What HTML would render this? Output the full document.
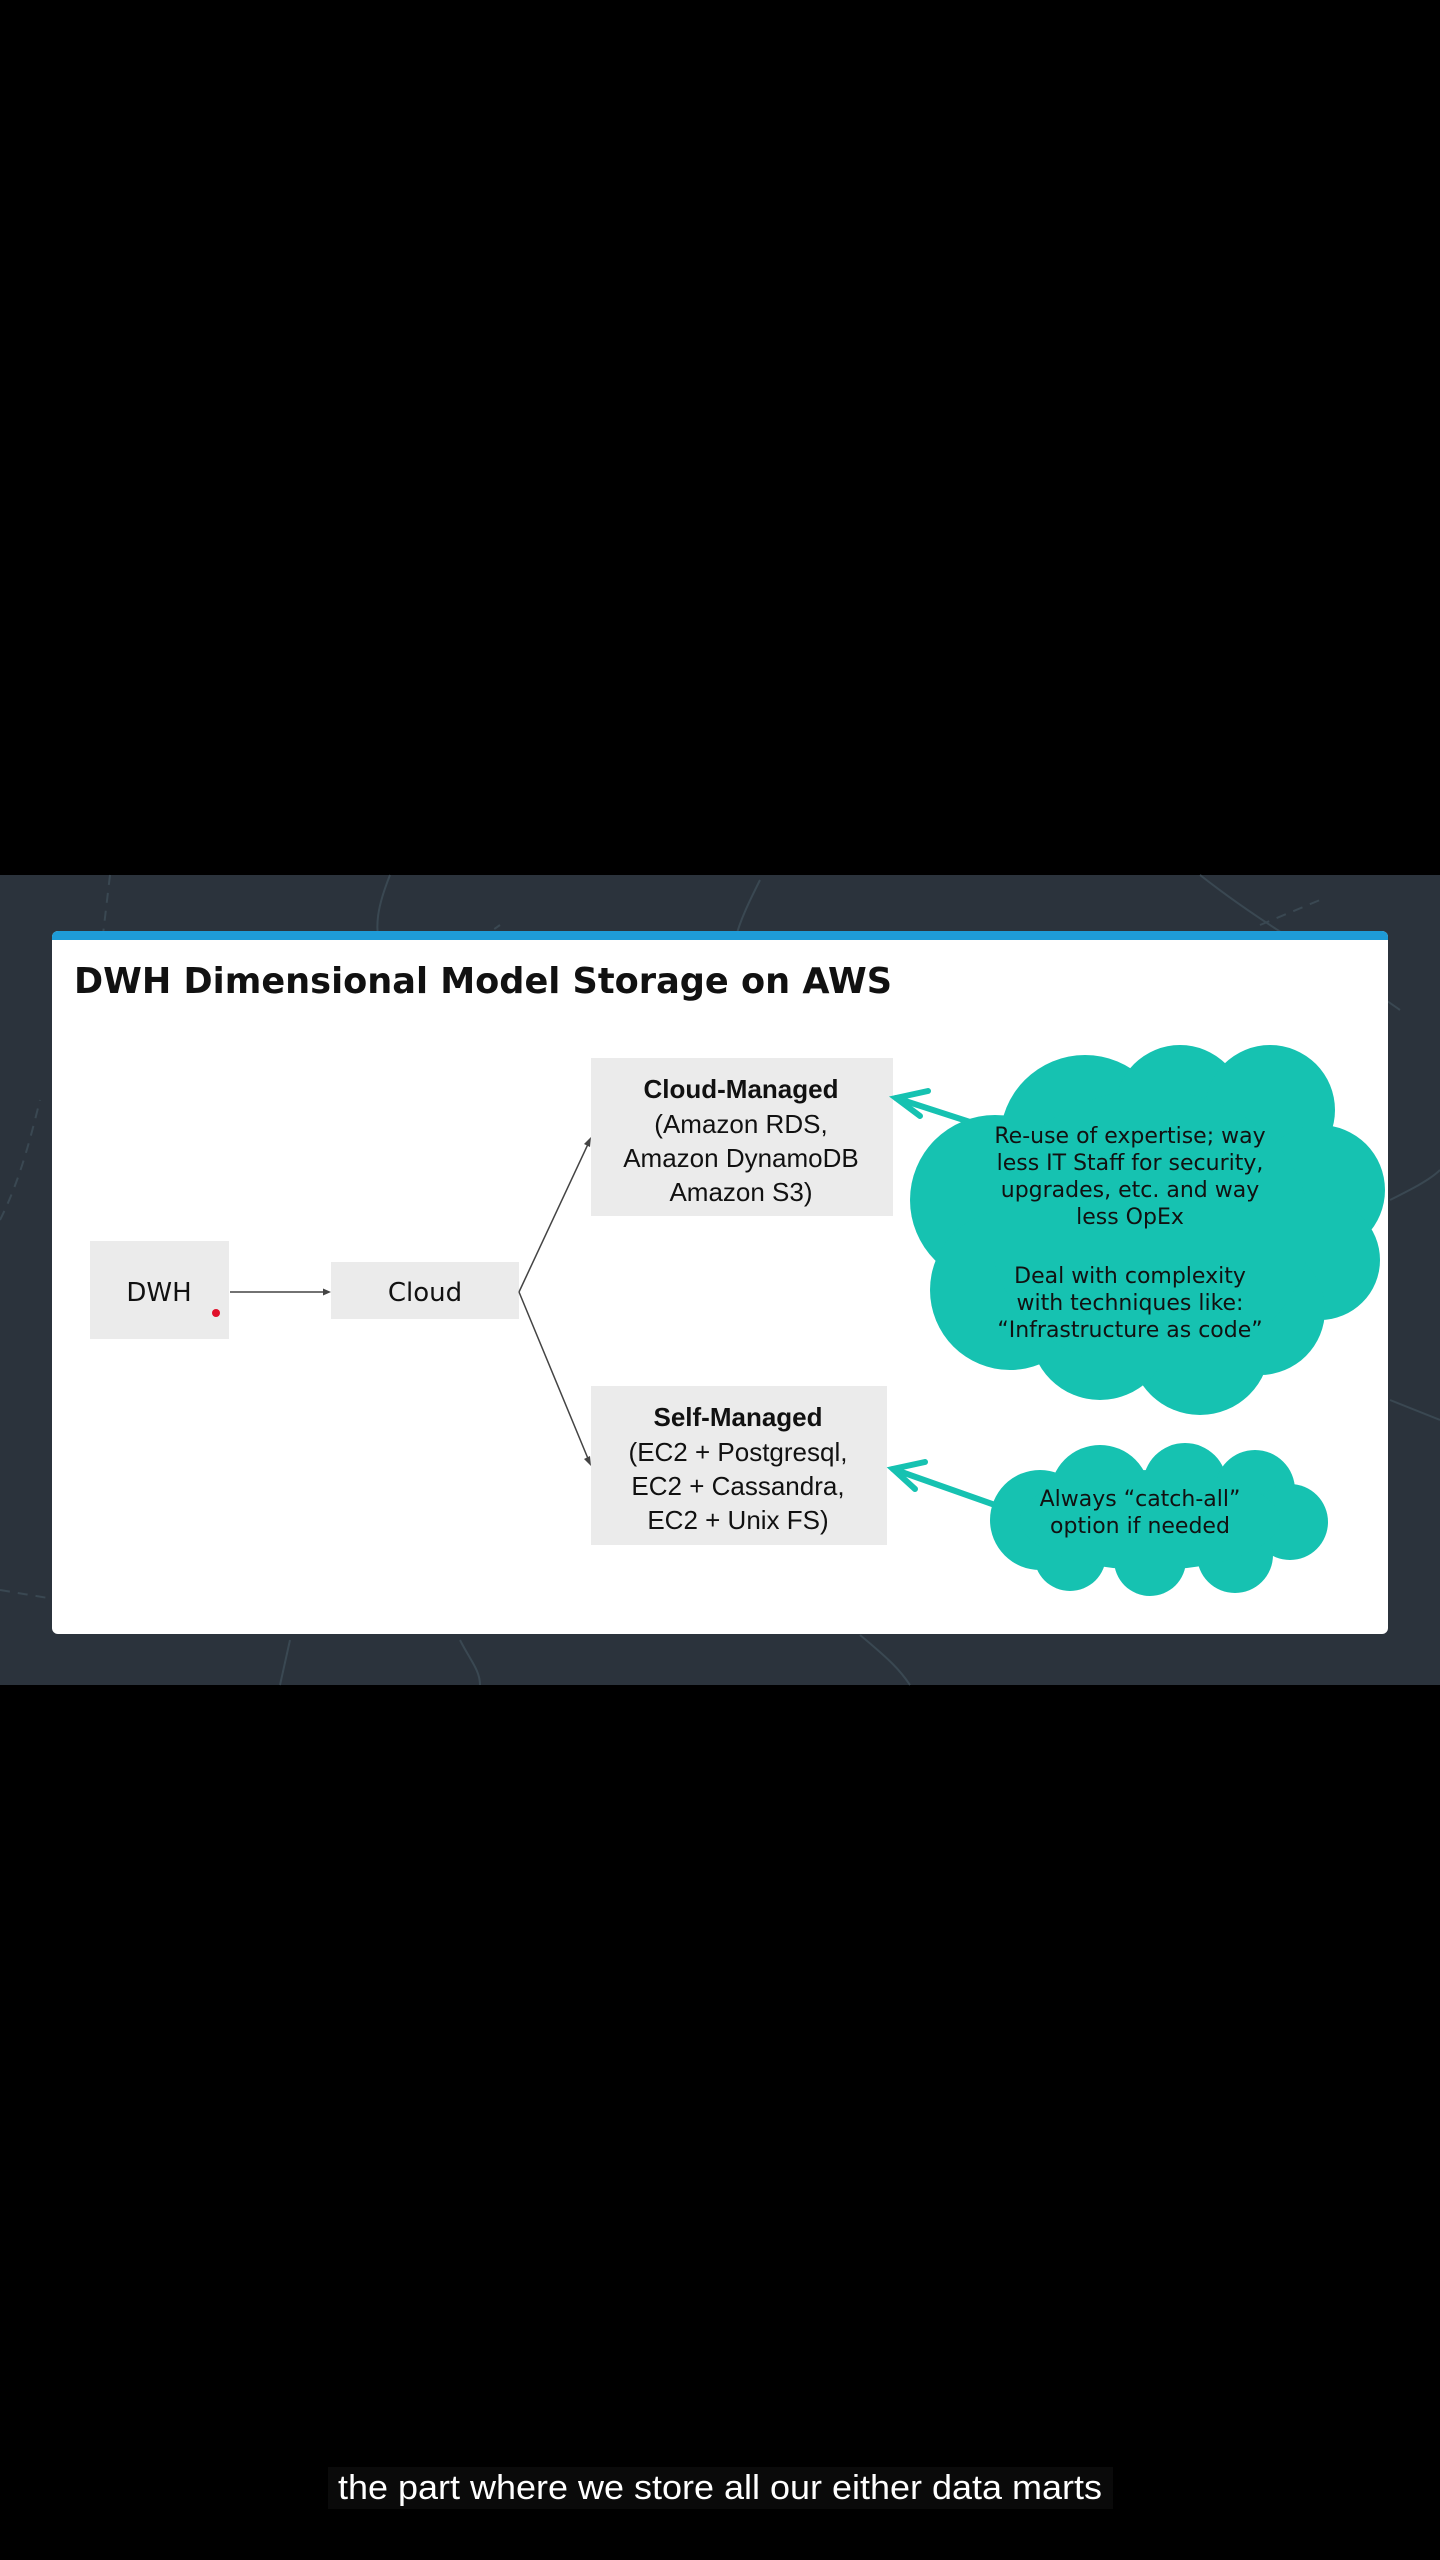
<!DOCTYPE html>
<html><head><meta charset="utf-8"><style>
html,body{margin:0;padding:0;background:#000;}
svg{display:block}
</style></head><body>
<svg width="1440" height="2560" viewBox="0 0 1440 2560" xmlns="http://www.w3.org/2000/svg">
<rect width="1440" height="2560" fill="#000"/>
<rect x="0" y="875" width="1440" height="810" fill="#2b333c"/>
<g fill="none" stroke="#3a4852" stroke-width="2">
<path d="M110 875 L100 960" stroke-dasharray="10 8"/>
<path d="M390 875 C380 900 370 930 385 960"/>
<path d="M450 960 L500 925" stroke-dasharray="10 8"/>
<path d="M760 880 C740 920 720 960 740 1000"/>
<path d="M1200 875 C1270 930 1330 960 1400 1010"/>
<path d="M1260 925 L1320 900" stroke-dasharray="10 8"/>
<path d="M0 1220 C20 1180 30 1140 40 1100" stroke-dasharray="10 8"/>
<path d="M0 1590 L60 1600" stroke-dasharray="10 8"/>
<path d="M290 1640 L280 1685"/>
<path d="M460 1640 C470 1660 480 1670 480 1685"/>
<path d="M860 1635 C890 1660 900 1670 910 1685"/>
<path d="M1390 1200 C1410 1190 1430 1180 1440 1170"/>
<path d="M1390 1400 L1440 1420"/>
</g>
<rect x="52" y="931" width="1336" height="703" rx="6" fill="#fff"/>
<path d="M52 940 V937 a6 6 0 0 1 6 -6 H1382 a6 6 0 0 1 6 6 V940 Z" fill="#1e9bd7"/>
<text x="74" y="993" font-family="DejaVu Sans, Liberation Sans, sans-serif" font-weight="bold" font-size="36" textLength="818" lengthAdjust="spacingAndGlyphs" fill="#111">DWH Dimensional Model Storage on AWS</text>

<rect x="90" y="1241" width="139" height="98" fill="#ebebeb"/>
<rect x="331" y="1262" width="188" height="57" fill="#ebebeb"/>
<rect x="591" y="1058" width="302" height="158" fill="#ebebeb"/>
<rect x="591" y="1386" width="296" height="159" fill="#ebebeb"/>

<g font-family="DejaVu Sans, Liberation Sans, sans-serif" font-size="26" fill="#111" text-anchor="middle">
<text x="159" y="1301">DWH</text>
<text x="425" y="1301">Cloud</text>
</g>
<circle cx="216" cy="1313" r="4" fill="#e0102a"/>

<g font-family="Liberation Sans, Arial, sans-serif" font-size="26" fill="#111" text-anchor="middle">
<text x="741" y="1098" font-weight="bold">Cloud-Managed</text>
<text x="741" y="1133">(Amazon RDS,</text>
<text x="741" y="1167">Amazon DynamoDB</text>
<text x="741" y="1201">Amazon S3)</text>
<text x="738" y="1426" font-weight="bold">Self-Managed</text>
<text x="738" y="1461">(EC2 + Postgresql,</text>
<text x="738" y="1495">EC2 + Cassandra,</text>
<text x="738" y="1529">EC2 + Unix FS)</text>
</g>

<g stroke="#444" stroke-width="1.5" fill="#444">
<line x1="230" y1="1292" x2="326" y2="1292"/>
<path d="M331 1292 l-8 -3.5 v7z" stroke="none"/>
<line x1="519" y1="1292" x2="589" y2="1142"/>
<path d="M591 1137 l-1 10 l-6 -3z" stroke="none"/>
<line x1="519" y1="1292" x2="589" y2="1461"/>
<path d="M591 1466 l-1 -10 l-6 3z" stroke="none"/>
</g>

<g fill="#16c2b1">
<circle cx="995" cy="1200" r="85"/>
<circle cx="1010" cy="1290" r="80"/>
<circle cx="1085" cy="1140" r="85"/>
<circle cx="1180" cy="1110" r="65"/>
<circle cx="1270" cy="1110" r="65"/>
<circle cx="1320" cy="1190" r="65"/>
<circle cx="1320" cy="1260" r="60"/>
<circle cx="1260" cy="1310" r="65"/>
<circle cx="1200" cy="1345" r="70"/>
<circle cx="1100" cy="1330" r="70"/>
<ellipse cx="1150" cy="1230" rx="160" ry="140"/>
<circle cx="1040" cy="1520" r="50"/>
<circle cx="1100" cy="1495" r="50"/>
<circle cx="1185" cy="1485" r="42"/>
<circle cx="1255" cy="1490" r="40"/>
<circle cx="1290" cy="1522" r="38"/>
<circle cx="1235" cy="1555" r="38"/>
<circle cx="1150" cy="1560" r="36"/>
<circle cx="1070" cy="1555" r="36"/>
<ellipse cx="1150" cy="1520" rx="130" ry="50"/>
</g>
<g stroke="#16c2b1" stroke-width="6" fill="none" stroke-linecap="round">
<line x1="970" y1="1122" x2="896" y2="1098"/>
<path d="M928 1091 L896 1098 L920 1116"/>
<line x1="995" y1="1505" x2="893" y2="1469"/>
<path d="M925 1462 L893 1469 L915 1489"/>
</g>

<g font-family="DejaVu Sans, Liberation Sans, sans-serif" font-size="22" fill="#111" text-anchor="middle">
<text x="1130" y="1143">Re-use of expertise; way</text>
<text x="1130" y="1170">less IT Staff for security,</text>
<text x="1130" y="1197">upgrades, etc. and way</text>
<text x="1130" y="1224">less OpEx</text>
<text x="1130" y="1283">Deal with complexity</text>
<text x="1130" y="1310">with techniques like:</text>
<text x="1130" y="1337">“Infrastructure as code”</text>
<text x="1140" y="1506">Always “catch-all”</text>
<text x="1140" y="1533">option if needed</text>
</g>

<rect x="328" y="2467" width="785" height="42" fill="#0a0a0a"/>
<text x="720" y="2499" font-family="Liberation Sans, Arial, sans-serif" font-size="34" fill="#fff" text-anchor="middle" textLength="764" lengthAdjust="spacingAndGlyphs">the part where we store all our either data marts</text>
</svg>
</body></html>
